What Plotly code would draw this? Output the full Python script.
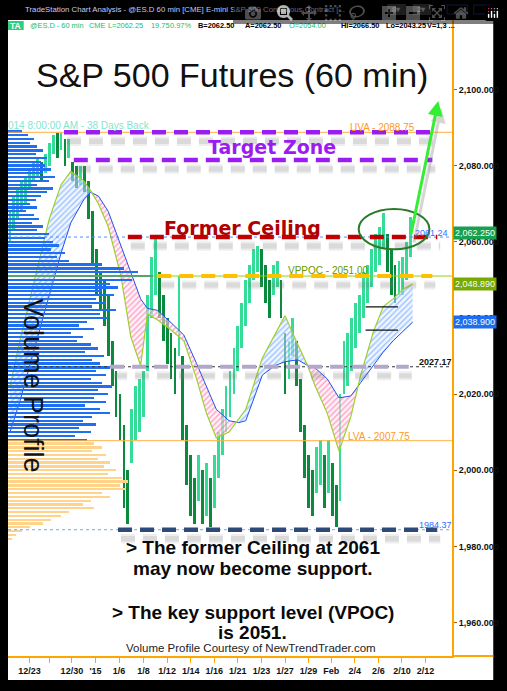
import plotly.graph_objects as go

# ---------------- data ----------------
date_ticks = [1.83, 3.5, 5.42, 7.42, 9.42, 11.5, 13.5, 15.5, 17.5, 19.5, 21.5, 23.5,
              25.5, 27.42, 29.42, 31.42, 33.42, 35.42]
date_labels = ["12/23", "", "12/30", "'15", "1/6", "1/8", "1/12", "1/14", "1/16", "1/21",
               "1/23", "1/27", "1/29", "Feb", "2/4", "2/6", "2/10", "2/12"]

price_t0 = 1 / 6      # first bar, trading days from left edge
price_step = 1 / 3    # one bar per third of a session
price_lo = [2060, 2063, 2066, 2068, 2070, 2074, 2076, 2077, 2076, 2078, 2080, 2083, 2082, 2084,
            2080, 2082, 2076, 2074, 2075, 2073, 2066, 2054, 2046, 2042, 2038, 2030, 2022, 2014,
            2008, 1990, 1986, 2002, 2008, 2010, 2014, 2026, 2040, 2046, 2040, 2034, 2028, 2024,
            2020, 2030, 2008, 1996, 1988, 1986, 1992, 1986, 1988, 1985, 1990, 1998, 2004, 2010,
            2014, 2020, 2026, 2032, 2038, 2044, 2050, 2052, 2048, 2044, 2040, 2046, 2048, 2040,
            2020, 2024, 2030, 2022, 2010, 1998, 1990, 1988, 1994, 1996, 1990, 1994, 1988, 1985,
            1992, 2020, 2022, 2026, 2032, 2036, 2040, 2044, 2048, 2052, 2054, 2058, 2052, 2046,
            2044, 2046, 2046, 2050, 2056]
price_hi = [2068, 2072, 2074, 2076, 2077, 2079, 2081, 2082, 2081, 2083, 2086, 2088, 2088.5, 2088.5,
            2087, 2087, 2081, 2080, 2080, 2080, 2076, 2068, 2058, 2052, 2050, 2046, 2034, 2026,
            2020, 2012, 2000, 2016, 2022, 2024, 2026, 2046, 2056, 2061.5, 2052, 2046, 2040, 2036,
            2032, 2051, 2030, 2012, 2004, 1998, 2004, 2000, 2002, 1998, 2004, 2010, 2016, 2022,
            2026, 2032, 2038, 2044, 2050, 2054, 2058, 2059, 2058, 2054, 2050, 2054, 2055, 2050,
            2036, 2034, 2040, 2034, 2024, 2012, 2004, 2000, 2006, 2008, 2004, 2008, 2002, 1996,
            2020, 2034, 2036, 2040, 2044, 2046, 2052, 2054, 2058, 2062, 2064, 2067.5, 2062, 2058,
            2054, 2055, 2056, 2060, 2066.5]

ma_days = [0.17, 1.0, 2.25, 3.5, 4.5, 5.33, 6.42, 7.0, 7.67, 8.5, 9.58, 10.42, 11.25, 11.83,
           12.67, 13.75, 14.92, 16.0, 16.83, 17.67, 18.75, 19.58, 20.17, 21.58, 22.67, 23.5,
           24.58, 25.42, 26.0, 27.08, 28.08, 29.08, 29.92, 31.0, 31.83, 32.67, 33.5, 34.33]
ma_fast = [2022, 2034, 2050, 2066, 2075, 2078.5, 2076, 2073.5, 2070, 2064, 2051, 2035, 2027.5,
           2041, 2039.5, 2037, 2034, 2024, 2015, 2008.5, 2010, 2013.5, 2016, 2029.5, 2036,
           2040.6, 2033, 2027.5, 2022.5, 2015, 2005, 2014, 2025, 2036.4, 2043, 2045, 2047.5,
           2048.89]
ma_slow = [2010, 2018, 2032, 2046, 2057, 2065, 2071, 2073, 2072, 2068, 2059, 2052, 2045,
           2042.5, 2042, 2039, 2035.5, 2028, 2022, 2016, 2013, 2012.5, 2013, 2025, 2027.5,
           2028.5, 2029, 2027.5, 2027, 2024, 2019, 2019.5, 2023, 2027.5, 2031, 2034, 2036.5,
           2038.9]

vp_prices = list(range(2089, 1981, -1))
vp_volume = [14, 20, 26, 22, 30, 36, 28, 40, 34, 38, 44, 36, 48, 42, 30, 46, 40, 34, 28, 22,
             30, 18, 26, 32, 24, 36, 30, 42, 38, 46, 52, 44, 58, 50, 62, 96, 118, 132, 148, 126,
             104, 112, 96, 108, 90, 100, 86, 110, 94, 102, 80, 72, 88, 64, 76, 70, 84, 92, 78,
             98, 86, 94, 104, 90, 100, 84, 96, 106, 92, 102, 88, 100, 78, 94, 104, 86, 76, 90,
             72, 84, 68, 80,
             88, 96, 86, 100, 92, 104, 98, 110, 102, 116, 122, 114, 120, 96, 104, 84, 76, 88,
             62, 54, 44, 36, 22, 14, 8, 4]

uva = 2088.75
target_low = 2081.5
ceiling = 2061.24
vppoc = 2051.00
mid_level = 2027.17
lva = 2007.75
low_level = 1984.37
swing_marks = [2042.9, 2036.8]
last_price = 2062.25
fast_last = 2048.89
slow_last = 2038.90

# ---------------- geometry helpers ----------------
W, H = 507, 691
ML, MR, MT, MB = 8, 47, 20, 35
PW, PH = W - ML - MR, H - MT - MB
X_RANGE = [0, PW / 12.0]
Y_RANGE = [1951.2, 2118.25]
ARIAL = "Liberation Sans, Arial, sans-serif"
DEJAVU = "DejaVu Sans, Verdana, sans-serif"


def dx(px):
    return X_RANGE[0] + (px - ML) / PW * (X_RANGE[1] - X_RANGE[0])


def pxp(px):
    return (px - ML) / PW


def pyp(py):
    return (H - MB - py) / PH


PT = PH / (Y_RANGE[1] - Y_RANGE[0])  # pixels per point

fig = go.Figure()

# ---------------- volume profile ----------------
vp_colors = ['#1f6ff0' if p >= lva else '#ffd48a' for p in vp_prices]
fig.add_trace(go.Bar(y=vp_prices, x=vp_volume, orientation='h', base=0, width=0.6,
                     marker=dict(color=vp_colors, line=dict(width=0)),
                     xaxis='x2', yaxis='y', hoverinfo='skip', showlegend=False))

# ---------------- MA ribbon ----------------
def ribbon_segments(xs, a, b):
    segs = []
    cx, ca, cb = [xs[0]], [a[0]], [b[0]]
    sign = a[0] >= b[0]
    for i in range(1, len(xs)):
        s = a[i] >= b[i]
        if s != sign:
            d0 = a[i - 1] - b[i - 1]
            d1 = a[i] - b[i]
            t = d0 / (d0 - d1)
            xc = xs[i - 1] + t * (xs[i] - xs[i - 1])
            yc = a[i - 1] + t * (a[i] - a[i - 1])
            cx.append(xc); ca.append(yc); cb.append(yc)
            segs.append((sign, cx, ca, cb))
            cx, ca, cb = [xc], [yc], [yc]
            sign = s
        cx.append(xs[i]); ca.append(a[i]); cb.append(b[i])
    segs.append((sign, cx, ca, cb))
    return segs


for up, cx, ca, cb in ribbon_segments(ma_days, ma_fast, ma_slow):
    fg = '#4a90ff' if up else '#ff4d96'
    bg = 'rgba(225,237,255,0.5)' if up else 'rgba(255,232,242,0.55)'
    fig.add_trace(go.Scatter(x=cx + cx[::-1], y=ca + cb[::-1], mode='lines', fill='toself',
                             line=dict(width=0), fillcolor=bg,
                             fillpattern=dict(shape='/', fgcolor=fg, bgcolor=bg, size=4,
                                              solidity=0.35),
                             hoverinfo='skip', showlegend=False))

fig.add_trace(go.Scatter(x=ma_days, y=ma_slow, mode='lines', line=dict(color='#2050f0', width=1),
                         hoverinfo='skip', showlegend=False))
fig.add_trace(go.Scatter(x=ma_days, y=ma_fast, mode='lines', line=dict(color='#9ad12a', width=1.2),
                         hoverinfo='skip', showlegend=False))

# ---------------- price bars ----------------
bar_x = [price_t0 + i * price_step for i in range(len(price_hi))]
mids = [(h + l) / 2 for h, l in zip(price_hi, price_lo)]
bar_col = ['#34dc98' if i == 0 or mids[i] >= mids[i - 1] else '#0a8a3c' for i in range(len(mids))]
fig.add_trace(go.Bar(x=bar_x, y=[h - l for h, l in zip(price_hi, price_lo)], base=price_lo,
                     width=0.24, marker=dict(color=bar_col, line=dict(width=0)),
                     hoverinfo='skip', showlegend=False))

# ---------------- shapes ----------------
shapes = []


def hline(level, px0, px1, color, width, dash='solid', layer='above'):
    shapes.append(dict(type='line', xref='x', yref='y', x0=dx(px0), x1=dx(px1), y0=level, y1=level,
                       line=dict(color=color, width=width, dash=dash), layer=layer))


# thin full-width reference lines
hline(uva, 8, 460, '#ffad42', 1)
hline(ceiling, 8, 460, '#4f8fff', 1, 'dot')
hline(vppoc, 8, 460, '#8fcf10', 1)
hline(mid_level, 8, 460, '#333333', 1, 'dot')
hline(lva, 8, 460, '#ffb040', 1)
hline(low_level, 8, 460, '#66aaff', 1, 'dot')

shadow = 9 / PT
dashed = [(uva, 65, 440, '#9b1cf2', 4.5), (target_low, 75, 440, '#9b1cf2', 4.5),
          (ceiling, 130, 445, '#c00000', 4.5), (vppoc, 160, 440, '#ffc000', 4),
          (mid_level, 112, 416, '#b4a7cc', 4), (low_level, 120, 445, '#2d4a78', 4.5)]
for lev, a, b, col, w in dashed:
    hline(lev - shadow, a + 3, b + 3, 'rgba(120,120,120,0.13)', w + 5, '14px,8px')
    hline(lev - shadow, a + 3, b + 3, 'rgba(120,120,120,0.16)', w + 1, '14px,8px')
for lev, a, b, col, w in dashed:
    hline(lev, a, b, col, w, '14px,8px')

for lev in swing_marks:
    hline(lev, 372, 405, '#111111', 1.2)

# ellipse
shapes.append(dict(type='circle', xref='x', yref='y', x0=dx(365), x1=dx(437),
                   y0=ceiling - 3.2, y1=ceiling + 7.4, line=dict(color='#2a7a2a', width=2),
                   layer='above'))

# frame / panels
def prect(x0, y0, x1, y1, color, layer='below', line=None):
    shapes.append(dict(type='rect', xref='paper', yref='paper', x0=pxp(x0), x1=pxp(x1),
                       y0=pyp(y1), y1=pyp(y0), fillcolor=color,
                       line=line or dict(width=0), layer=layer))


prect(460, 20, 502, 680, 'white')
prect(8, 656, 460, 680, 'white')
shapes.append(dict(type='line', xref='paper', yref='paper', x0=pxp(460), x1=pxp(502),
                   y0=pyp(656), y1=pyp(656), line=dict(color='#ffa500', width=2), layer='above'))
# title bar buttons
prect(394, 4, 413, 15, '#3c3c3c', 'above')
prect(420, 4, 439, 15, '#3c3c3c', 'above')
prect(455, 5, 476, 14, 'black', 'above', dict(color='#1c2e6e', width=1))
prect(482, 5, 500, 14, 'black', 'above', dict(color='#1c2e6e', width=1))
# TA badge
prect(8, 21, 24, 30, '#2fcf7f', 'above')

fig.update_layout(shapes=shapes)

# ---------------- annotations ----------------
def txt(text, px, py, size, color, anchor='left', family=ARIAL, bold=False, angle=0):
    fig.add_annotation(x=pxp(px), y=pyp(py), xref='paper', yref='paper', text=text,
                       showarrow=False, xanchor=anchor, yanchor='middle', textangle=angle,
                       font=dict(size=size, color=color, family=family,
                                 weight='bold' if bold else 'normal'))


# title bar
txt("TradeStation Chart Analysis - @ES.D 60 min [CME] E-mini S&P 500 Continuous Contract [...",
    23, 10, 7.8, '#c9c9f5')
txt("8▾", 403, 10, 8, '#bbbbbb', 'center', bold=True)
txt("2▾", 429, 10, 8, '#bbbbbb', 'center', bold=True)

# info line
txt("TA", 16, 25.5, 8.5, 'white', 'center', bold=True)
info = [("@ES.D - 60 min", 29, '#10c070', False), ("CME", 89, '#10c070', False),
        ("L=2062.25", 109, '#10c070', False), ("19.75", 153, '#10c070', False),
        ("0.97%", 172, '#10c070', False), ("B=2062.50", 200, '#000000', True),
        ("A=2062.50", 248, '#000000', True), ("O=2054.00", 293, '#10c070', False),
        ("Hi=2066.50", 346, '#000000', True), ("Lo=2043.25", 392, '#000000', True),
        ("V=1,3 ...", 434, '#000000', True)]
for t, x, c, b in info:
    txt(t, x - 1, 25.5, 7.4, c, bold=b)

txt("S&P 500 Futures (60 min)", 236, 75, 34, '#111111', 'center')
txt("Volume Profile", 33, 385, 27, '#111111', 'center', angle=90)
txt("014 8:00:00 AM - 38 Days Back", 6, 126, 10, '#84e6cf')
txt("UVA - 2088.75", 354, 127, 10, '#ff9a1a')
txt("Target Zone", 277, 147, 19, '#9b1cf2', 'center', family=DEJAVU, bold=True)
txt("Former Ceiling", 247, 228, 19, '#b00000', 'center', family=DEJAVU, bold=True)
txt(f"{ceiling:.2f}", 420, 233, 9, '#2f6fff')
txt(f"VPPOC - {vppoc:.2f}", 291, 270, 10, '#5f9a00')
txt(f"{mid_level:.2f}", 424, 362, 9, '#111111', bold=True)
txt(f"LVA - {lva:.2f}", 352, 436, 10, '#ff9a1a')
txt(f"{low_level:.2f}", 424, 525, 9, '#2f6fff')

for t, y in [("> The former Ceiling at 2061", 547), ("may now become support.", 568),
             ("> The key support level (VPOC)", 612), ("is 2051.", 632)]:
    txt(t, 257, y, 19, '#0a0a0a', 'center', bold=True)
txt("Volume Profile Courtesy of NewTrendTrader.com", 255, 648, 11.5, '#222222', 'center')

# value boxes on price scale
for val, bg in [(last_price, '#17a050'), (fast_last, '#79a800'), (slow_last, '#1e6cf0')]:
    fig.add_annotation(x=pxp(461), y=val, xref='paper', yref='y', text=f"{val:,.3f}",
                       showarrow=False, xanchor='left', yanchor='middle', bgcolor=bg,
                       borderpad=1, font=dict(size=9, color='#f4fff4', family=ARIAL))

# arrow (shadow + green)
fig.add_annotation(x=dx(449), y=2097.0 - 7 / PT, ax=dx(421), ay=ceiling - 7 / PT, xref='x', yref='y',
                   axref='x', ayref='y', text='', showarrow=True, arrowhead=2, arrowsize=1,
                   arrowwidth=3, arrowcolor='rgba(120,120,120,0.3)')
fig.add_annotation(x=dx(446), y=2097.0, ax=dx(418), ay=ceiling + 0.4, xref='x', yref='y',
                   axref='x', ayref='y', text='', showarrow=True, arrowhead=2, arrowsize=1,
                   arrowwidth=3, arrowcolor='#33ee33')

# ---------------- layout ----------------
fig.update_layout(
    width=W, height=H, margin=dict(l=ML, r=MR, t=MT, b=MB, pad=0),
    paper_bgcolor='black', plot_bgcolor='white', barmode='overlay', showlegend=False,
    bargap=0,
    xaxis=dict(range=X_RANGE, tickvals=date_ticks, ticktext=date_labels, ticks='outside',
               ticklen=5, tickcolor='#ffa500', tickwidth=1, showgrid=False, zeroline=False,
               showline=True, linecolor='#ffa500', linewidth=2,
               tickfont=dict(size=9, color='#111111', family=ARIAL, weight='bold')),
    xaxis2=dict(overlaying='x', anchor='y', range=[0, PW], visible=False),
    yaxis=dict(range=Y_RANGE, side='right', dtick=20, tick0=1960, tickformat=',.3f',
               ticks='outside', ticklen=3, tickcolor='#b05a00', showgrid=False, zeroline=False,
               showline=True, linecolor='#ffa500', linewidth=2,
               tickfont=dict(size=9, color='#111111', family=ARIAL, weight='bold')),
)

fig.write_html("out.html", post_script="document.body.style.margin='0';")
